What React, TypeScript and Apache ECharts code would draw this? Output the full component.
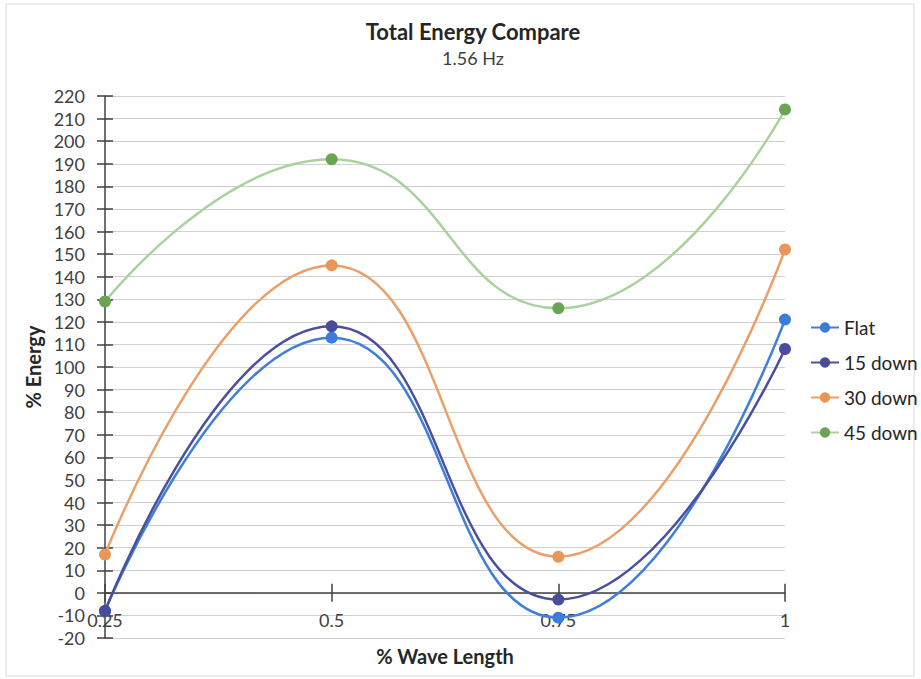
import React, { useEffect, useRef } from "react";
import * as echarts from "echarts";

const xValues = [0.25, 0.5, 0.75, 1];
const seriesNames = ["Flat", "15 down", "30 down", "45 down"];
const flat = [-8, 113, -11, 121];
const down15 = [-8, 118, -3, 108];
const down30 = [17, 145, 16, 152];
const down45 = [129, 192, 126, 214];
const lineColors = ["#3f7fd6", "#4a4f9e", "#eba06a", "#a9d29c"];
const markerColors = ["#3b7dd8", "#484c9a", "#e8975a", "#6aa552"];

const FONT = "Lato, 'Open Sans', sans-serif";

export default function App() {
  const ref = useRef<HTMLDivElement>(null);
  useEffect(() => {
    if (!ref.current) return;
    const chart = echarts.init(ref.current, null, { renderer: "svg" });
    const all = [flat, down15, down30, down45];
    const yBase = {
      type: "value" as const,
      min: -20,
      max: 220,
      interval: 10,
    };
    const xBase = {
      type: "value" as const,
      min: 0.25,
      max: 1,
      interval: 0.25,
    };
    chart.setOption({
      animation: false,
      backgroundColor: "#ffffff",
      textStyle: { fontFamily: FONT },
      title: {
        text: "Total Energy Compare",
        subtext: "1.56 Hz",
        left: 468,
        textAlign: "center",
        top: 15,
        itemGap: 7,
        textStyle: { fontFamily: FONT, fontSize: 22, fontWeight: "bold", color: "#262626" },
        subtextStyle: { fontFamily: FONT, fontSize: 18, color: "#404040" },
      },
      legend: {
        orient: "vertical",
        left: 810,
        top: 318,
        padding: 0,
        itemWidth: 28,
        itemHeight: 13,
        itemGap: 16,
        textStyle: { fontFamily: FONT, fontSize: 19, color: "#262626" },
        data: seriesNames,
      },
      grid: { left: 105, right: 136, top: 96, bottom: 41, outerBoundsMode: "none" },
      xAxis: [
        {
          ...xBase,
          name: "% Wave Length",
          nameLocation: "middle",
          nameGap: 8,
          nameTextStyle: { fontFamily: FONT, fontSize: 20, fontWeight: "bold", color: "#262626" },
          axisLine: { onZero: true, lineStyle: { color: "#404040", width: 1.5 } },
          axisTick: { show: true, length: 9, lineStyle: { color: "#404040", width: 1.5 } },
          axisLabel: {
            fontFamily: FONT,
            fontSize: 18,
            color: "#404040",
            margin: -27,
            formatter: (v: number) => String(v),
          },
          splitLine: { show: false },
        },
        {
          ...xBase,
          position: "bottom",
          axisLine: { onZero: true, show: false },
          axisTick: { show: true, inside: true, length: 9, lineStyle: { color: "#404040", width: 1.5 } },
          axisLabel: { show: false },
          splitLine: { show: false },
        },
      ],
      yAxis: [
        {
          ...yBase,
          name: "% Energy",
          nameLocation: "middle",
          nameGap: 55,
          nameRotate: 90,
          nameTextStyle: { fontFamily: FONT, fontSize: 20, fontWeight: "bold", color: "#262626" },
          axisLine: { show: true, lineStyle: { color: "#404040", width: 1.5 } },
          axisTick: { show: true, length: 8, lineStyle: { color: "#404040", width: 1.5 } },
          axisLabel: { fontFamily: FONT, fontSize: 18, color: "#404040", margin: 20 },
          splitLine: { show: true, lineStyle: { color: "#d0d0d0", width: 1 } },
        },
        {
          ...yBase,
          position: "left",
          axisLine: { show: false },
          axisTick: { show: true, inside: true, length: 8, lineStyle: { color: "#404040", width: 1.5 } },
          axisLabel: { show: false },
          splitLine: { show: false },
        },
      ],
      series: seriesNames.map((name, i) => ({
        name,
        type: "line",
        smooth: 0.5,
        xAxisIndex: 0,
        yAxisIndex: 0,
        data: xValues.map((x, j) => [x, all[i][j]]),
        symbol: "circle",
        symbolSize: 12,
        lineStyle: { color: lineColors[i], width: 2.5 },
        itemStyle: { color: markerColors[i] },
        z: 2 + i,
      })),
      graphic: [
        {
          type: "rect",
          shape: { x: 6, y: 4, width: 908, height: 672 },
          style: { fill: "none", stroke: "#d9d9d9", lineWidth: 1 },
          silent: true,
        },
      ],
    });
    return () => chart.dispose();
  }, []);
  return (
    <div
      ref={ref}
      style={{ position: "absolute", left: 0, top: 0, width: 921, height: 679 }}
    />
  );
}
